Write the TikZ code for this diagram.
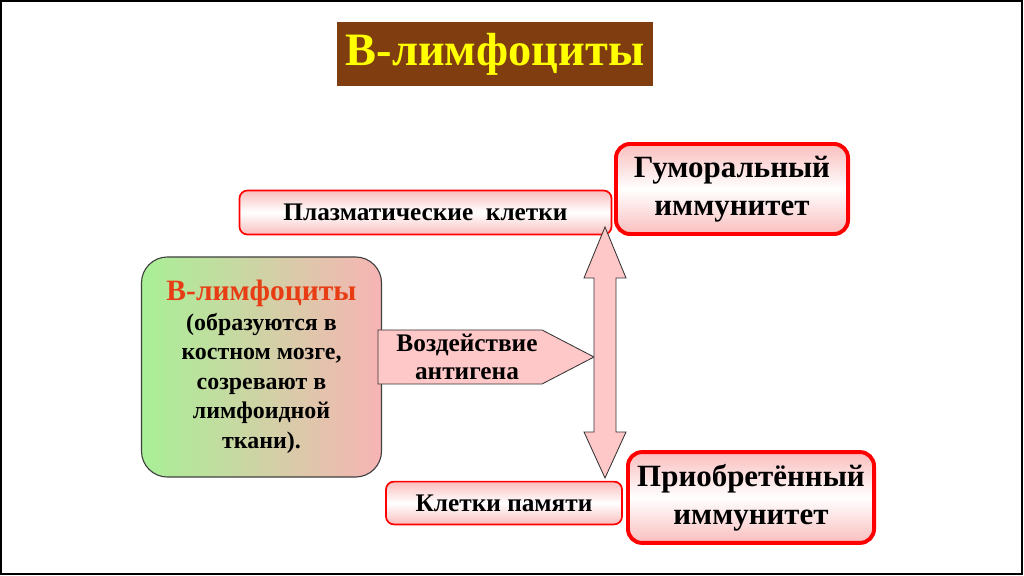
\documentclass[tikz,border=0pt]{standalone}
\usepackage{fontspec}
\setmainfont{Liberation Serif}
\usetikzlibrary{shadings}
\definecolor{titlebrown}{RGB}{128,62,16}
\definecolor{titleyellow}{RGB}{255,255,0}
\definecolor{boxred}{RGB}{255,0,0}
\definecolor{lightpink}{RGB}{250,190,190}
\definecolor{arrowpink}{RGB}{255,200,200}
\definecolor{leftgreen}{RGB}{168,240,150}
\definecolor{rightpink}{RGB}{247,180,180}
\definecolor{textred}{RGB}{232,60,20}
\begin{document}
\begin{tikzpicture}[x=0.025cm, y=-0.025cm, thick,
  cellbox/.style = {draw=boxred, line width=1.2pt, rounded corners=0.2cm, top color=lightpink, bottom color=lightpink, middle color=white, font=\bfseries\fontsize{18}{21}\selectfont},
  immbox/.style = {draw=boxred, line width=2.8pt, rounded corners=0.35cm, top color=lightpink, bottom color=lightpink, middle color=white, align=center, font=\bfseries\fontsize{22}{27}\selectfont},
  pinkarrow/.style = {draw=black!80, line width=0.6pt, fill=arrowpink}]
  \useasboundingbox (0,0) rectangle (1024,576);
  \draw[line width=1.4pt] (1,1) rectangle (1022,574);
  \node[fill=titlebrown, text=titleyellow, minimum width=7.9cm, minimum height=1.6cm, font=\bfseries\fontsize{33}{38}\selectfont] (title) at (495,54) {В-лимфоциты};
  \node[cellbox, minimum width=9.3cm, minimum height=1.1cm] (plasma) at (425.5,212.5) {Плазматические\ \ клетки};
  \node[immbox, minimum width=5.8cm, minimum height=2.25cm] (humoral) at (732,189) {Гуморальный\\иммунитет};
  \node[draw=black!75, line width=0.8pt, rounded corners=0.65cm, left color=leftgreen, right color=rightpink, minimum width=6cm, minimum height=5.5cm, align=center, font=\bfseries\fontsize{17}{21}\selectfont] (bcells) at (261.5,367) {{\color{textred}\fontsize{21}{25}\selectfont В-лимфоциты}\\(образуются в\\костном мозге,\\созревают в\\лимфоидной\\ткани).};
  \node[cellbox, minimum width=5.9cm, minimum height=1.07cm] (memory) at (504,503) {Клетки памяти};
  \node[immbox, minimum width=6.15cm, minimum height=2.27cm] (acquired) at (751,497.5) {Приобретённый\\иммунитет};
  \draw[pinkarrow] (378,330) -- (542,330) -- (594,357) -- (542,384) -- (378,384) -- cycle;
  \node[align=center, font=\bfseries\fontsize{18}{20}\selectfont] (antigen) at (467,357) {Воздействие\\антигена};
  \draw[pinkarrow] (605,227) -- (626,278) -- (616,278) -- (616,432) -- (626,432) -- (605,478) -- (584,432) -- (594,432) -- (594,278) -- (584,278) -- cycle;
\end{tikzpicture}
\end{document}
